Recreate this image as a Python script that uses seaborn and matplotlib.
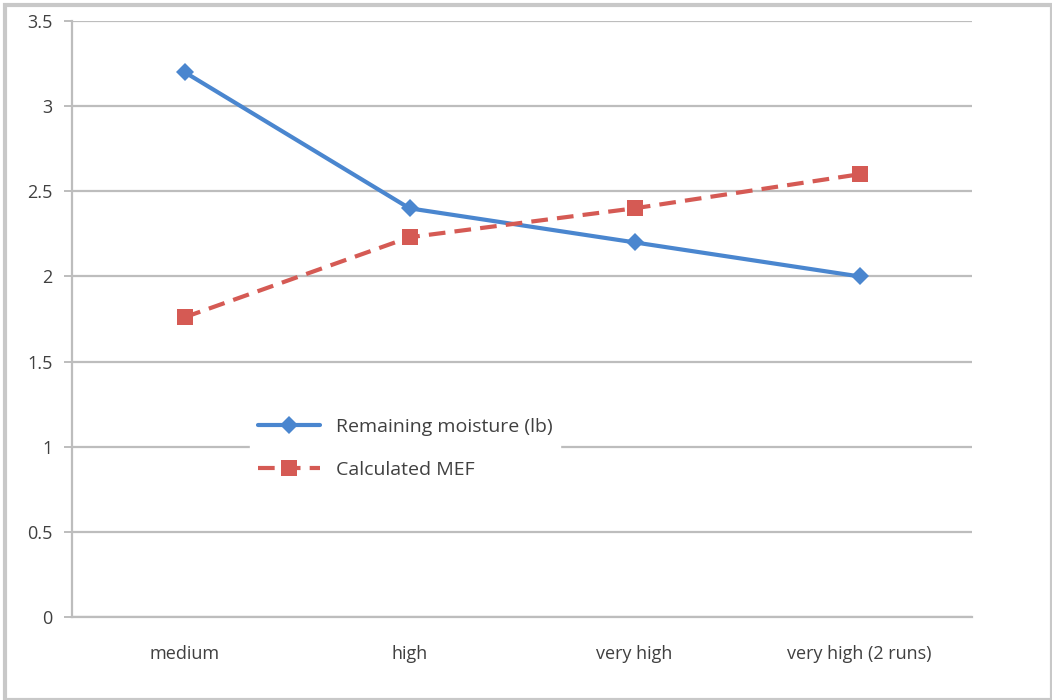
import numpy as np
import pandas as pd
import matplotlib
matplotlib.use("Agg")
import matplotlib.pyplot as plt
import seaborn as sns
from matplotlib.patches import Rectangle

# --- data ---
levels = ["medium", "high", "very high", "very high (2 runs)"]
moisture = [3.2, 2.4, 2.2, 2.0]
mef = [1.76, 2.23, 2.40, 2.60]
series_names = ["Remaining moisture (lb)", "Calculated MEF"]
y_ticks = [0, 0.5, 1, 1.5, 2, 2.5, 3, 3.5]
y_tick_labels = ["0", "0.5", "1", "1.5", "2", "2.5", "3", "3.5"]

df = pd.DataFrame({
    "level": levels * 2,
    "value": moisture + mef,
    "series": [series_names[0]] * len(levels) + [series_names[1]] * len(levels),
})

sns.set_theme(style="white")
plt.rcParams["font.family"] = ["Open Sans", "DejaVu Sans"]

BLUE = "#4A86CF"
RED = "#D55A54"
GRID = "#BDBDBD"
TXT = "#404040"

fig = plt.figure(figsize=(10.52, 7.0), dpi=100)
ax = fig.add_axes([72 / 1052, 1 - 617 / 700, 900 / 1052, (617 - 21) / 700])

sns.lineplot(
    data=df, x="level", y="value", hue="series", style="series",
    palette={series_names[0]: BLUE, series_names[1]: RED},
    markers={series_names[0]: "D", series_names[1]: "s"},
    dashes={series_names[0]: "", series_names[1]: (4, 2.2)},
    markersize=9, linewidth=3.0, markeredgewidth=0, sort=False, ax=ax,
)
# bump the square marker size a bit
for line in ax.get_lines():
    if line.get_marker() == "s":
        line.set_markersize(12)

ax.set_xlim(-0.5, len(levels) - 0.5)
ax.set_ylim(0, 3.5)
ax.set_yticks(y_ticks)
ax.set_yticklabels(y_tick_labels)
ax.set_xlabel("")
ax.set_ylabel("")

ax.yaxis.grid(True, color=GRID, linewidth=1.6)
ax.set_axisbelow(True)
for side in ["top", "right"]:
    ax.spines[side].set_visible(False)
for side in ["left", "bottom"]:
    ax.spines[side].set_color(GRID)
    ax.spines[side].set_linewidth(1.6)

# category boundary ticks on x, small outward ticks on y
ax.set_xticks(np.arange(len(levels)))
ax.set_xticklabels(levels)
ax.set_xticks(np.arange(len(levels) + 1) - 0.5, minor=True)
ax.tick_params(axis="x", which="major", length=0, pad=20, labelsize=13, labelcolor=TXT)
ax.tick_params(axis="x", which="minor", length=6, width=1.4, color=GRID, direction="out")
ax.tick_params(axis="y", length=6, width=1.4, color=GRID, direction="out",
               pad=8, labelsize=13, labelcolor=TXT, left=True)

leg = ax.legend(
    loc="upper left", bbox_to_anchor=((250 - 72) / 900, (617 - 410) / 596),
    frameon=True, fancybox=False, edgecolor="white", framealpha=1,
    fontsize=14, handlelength=3.2, labelspacing=1.3, borderpad=0.4,
    borderaxespad=0,
)
for t in leg.get_texts():
    t.set_color(TXT)

# light grey frame around the whole chart
fig.patches.append(Rectangle((5 / 1052, 0), 1 - 5 / 1052, 1 - 5 / 700,
                             transform=fig.transFigure, fill=False,
                             edgecolor="#C8C8C8", linewidth=3))

fig.savefig("out.png", dpi=100)
